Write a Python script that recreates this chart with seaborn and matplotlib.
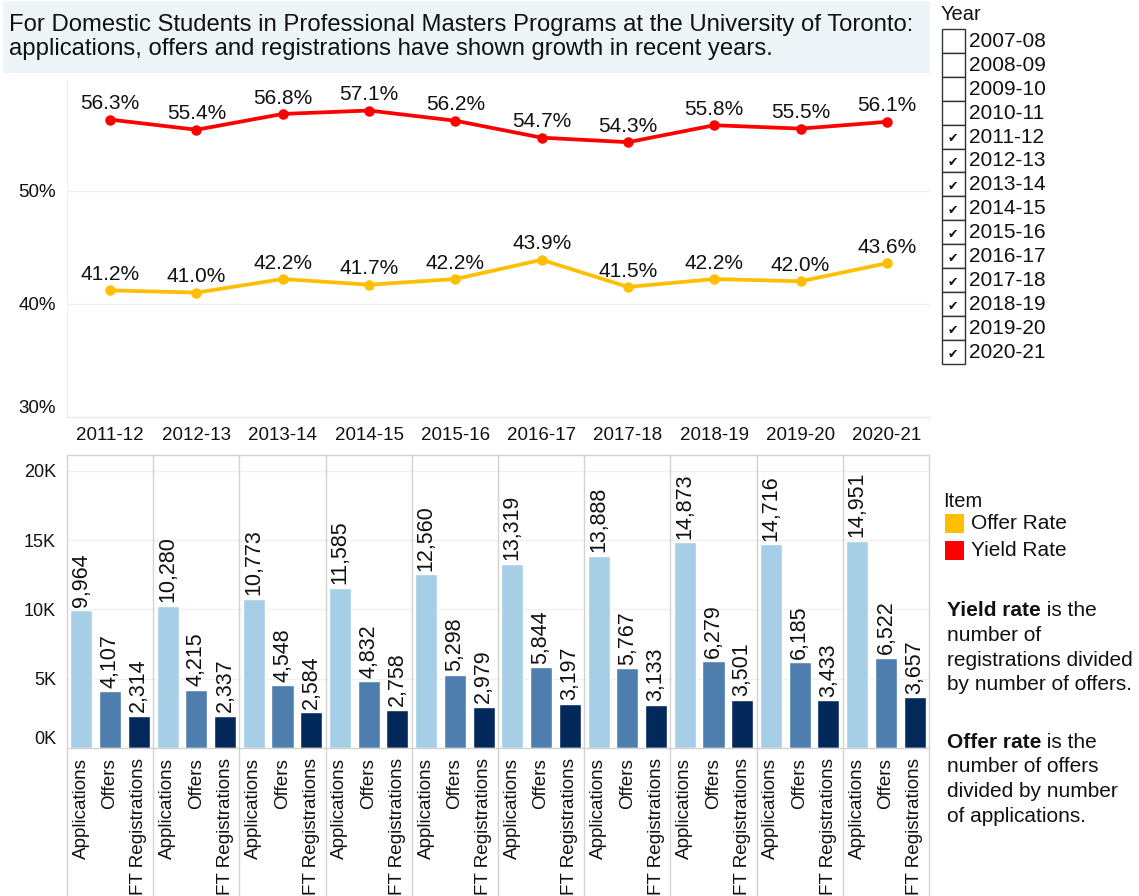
import numpy as np
import pandas as pd
import matplotlib
matplotlib.use("Agg")
import matplotlib.pyplot as plt
import seaborn as sns
from matplotlib.patches import Rectangle

# ---------------- data ----------------
years = ['2011-12', '2012-13', '2013-14', '2014-15', '2015-16',
         '2016-17', '2017-18', '2018-19', '2019-20', '2020-21']
yield_rate = [56.3, 55.4, 56.8, 57.1, 56.2, 54.7, 54.3, 55.8, 55.5, 56.1]
offer_rate = [41.2, 41.0, 42.2, 41.7, 42.2, 43.9, 41.5, 42.2, 42.0, 43.6]

items = ['Applications', 'Offers', 'FT Registrations']
applications = [9964, 10280, 10773, 11585, 12560, 13319, 13888, 14873, 14716, 14951]
offers = [4107, 4215, 4548, 4832, 5298, 5844, 5767, 6279, 6185, 6522]
ft_registrations = [2314, 2337, 2584, 2758, 2979, 3197, 3133, 3501, 3433, 3657]

rate_items = ['Offer Rate', 'Yield Rate']
all_years = ['2007-08', '2008-09', '2009-10', '2010-11', '2011-12', '2012-13',
             '2013-14', '2014-15', '2015-16', '2016-17', '2017-18', '2018-19',
             '2019-20', '2020-21']
checked_years = years

title_lines = ["For Domestic Students in Professional Masters Programs at the University of Toronto:",
               "applications, offers and registrations have shown growth in recent years."]

# ---------------- style ----------------
sns.set_style("white")
plt.rcParams['font.family'] = ['Liberation Sans', 'DejaVu Sans']

rate_colors = {'Offer Rate': '#FFBF00', 'Yield Rate': '#FF0000'}
bar_colors = {'Applications': '#A6CEE6', 'Offers': '#4E7EAE', 'FT Registrations': '#03295B'}
GRID = '#F0F0F0'
BORDER = '#D3D3D3'
TXT = '#111111'

W, H = 1139, 896
fig = plt.figure(figsize=(W / 100, H / 100), dpi=100)


def rect(x0, y0, x1, y1):
    return [x0 / W, 1 - y1 / H, (x1 - x0) / W, (y1 - y0) / H]


def fx(x):
    return x / W


def fy(y):
    return 1 - y / H


# ---------------- title box ----------------
fig.patches.append(Rectangle((fx(3), fy(73)), 927 / W, 72 / H, transform=fig.transFigure,
                             facecolor='#EDF5F9', edgecolor='none', zorder=0))
fig.text(fx(9), fy(30.5), title_lines[0], fontsize=17.2, va='baseline', ha='left', color=TXT)
fig.text(fx(9), fy(54.5), title_lines[1], fontsize=17.2, va='baseline', ha='left', color=TXT)

# ---------------- line chart ----------------
rates = pd.DataFrame({
    'Year': years * 2,
    'Rate': offer_rate + yield_rate,
    'Item': ['Offer Rate'] * len(years) + ['Yield Rate'] * len(years),
})

ax1 = fig.add_axes(rect(67, 80, 930, 417))
sns.pointplot(data=rates, x='Year', y='Rate', hue='Item', order=years, hue_order=rate_items,
              palette=rate_colors, markers='o', markersize=5.5, linewidth=2.7,
              errorbar=None, legend=False, ax=ax1)
for series in (offer_rate, yield_rate):
    for i, v in enumerate(series):
        ax1.annotate(f"{v:.1f}%", (i, v), xytext=(0, 7.5), textcoords='offset points',
                     ha='center', va='baseline', fontsize=15, color=TXT)
ax1.set_xlim(-0.5, len(years) - 0.5)
ax1.set_ylim(30, 59.8)
ax1.set_yticks([30, 40, 50])
ax1.set_yticklabels(['30%', '40%', '50%'])
ax1.yaxis.grid(True, color=GRID, lw=1)
ax1.set_xlabel('')
ax1.set_ylabel('')
for s in ['top', 'right']:
    ax1.spines[s].set_visible(False)
ax1.spines['left'].set_color(GRID)
ax1.spines['bottom'].set_color('#E6E6E6')
ax1.tick_params(axis='both', length=0, labelsize=13.5, colors=TXT)
ax1.tick_params(axis='y', pad=8)
ax1.tick_params(axis='x', pad=7)
ax1.set_xticks(np.arange(len(years) - 1) + 0.5, minor=True)
ax1.tick_params(axis='x', which='minor', length=6, color='#E6E6E6', width=1)
ax1.get_yticklabels()[0].set_va('bottom')

# ---------------- bar chart (faceted by year) ----------------
counts = pd.DataFrame({
    'Year': [y for y in years for _ in items],
    'Item': items * len(years),
    'Value': [v for trio in zip(applications, offers, ft_registrations) for v in trio],
})

panel_w = (929 - 67) / len(years)
for k, yr in enumerate(years):
    x0 = 67 + k * panel_w
    ax = fig.add_axes(rect(x0, 455, x0 + panel_w, 748))
    sub = counts[counts['Year'] == yr]
    sns.barplot(data=sub, x='Item', y='Value', hue='Item', order=items, hue_order=items,
                palette=bar_colors, width=0.77, legend=False, ax=ax, saturation=1)
    for c in ax.containers:
        ax.bar_label(c, labels=[f"{b.get_height():,.0f}" for b in c], rotation=90,
                     padding=2.5, fontsize=15.5, color=TXT)
    ax.set_xlim(-0.5, 2.5)
    ax.set_ylim(0, 21155)
    ax.set_yticks([0, 5000, 10000, 15000, 20000])
    ax.yaxis.grid(True, color=GRID, lw=1)
    ax.set_axisbelow(True)
    ax.set_xlabel('')
    ax.set_ylabel('')
    ax.tick_params(axis='x', length=0, labelsize=13.6, labelrotation=90, pad=7, colors=TXT)
    ax.set_xticks([0.5, 1.5], minor=True)
    ax.tick_params(axis='x', which='minor', length=7, color='#E6E6E6', width=1)
    for s in ['left', 'top', 'bottom', 'right']:
        ax.spines[s].set_color(BORDER)
        ax.spines[s].set_linewidth(1)
    if k < len(years) - 1:
        ax.spines['right'].set_visible(False)
    ax.axvline(-0.5, ymin=-0.51, ymax=0, color=BORDER, lw=1, clip_on=False)
    if k == len(years) - 1:
        ax.axvline(2.5, ymin=-0.51, ymax=0, color=BORDER, lw=1, clip_on=False)
    if k == 0:
        ax.set_yticklabels(['0K', '5K', '10K', '15K', '20K'])
        ax.tick_params(axis='y', length=0, labelsize=13, pad=8, colors=TXT)
        ax.get_yticklabels()[0].set_va('bottom')
    else:
        ax.tick_params(axis='y', length=0, labelleft=False)

# ---------------- Year filter (checkbox list) ----------------
fig.text(fx(941), fy(14), 'Year', fontsize=14.5, va='center', ha='left', color=TXT)
row_h = 23.9
for i, yr in enumerate(all_years):
    top = 29 + i * row_h
    fig.patches.append(Rectangle((fx(941.5), fy(top + row_h)), 23.5 / W, row_h / H,
                                 transform=fig.transFigure, facecolor='white',
                                 edgecolor='#333333', lw=1))
    if yr in checked_years:
        fig.text(fx(952.5), fy(top + row_h * 0.6), '\u2714', fontsize=9, ha='center',
                 va='center', color=TXT, family=['DejaVu Sans'])
    fig.text(fx(969), fy(top + row_h / 2 + 0.5), yr, fontsize=15, va='center', ha='left',
             color=TXT)

# ---------------- Item legend ----------------
fig.text(fx(943), fy(501), 'Item', fontsize=14.5, va='center', ha='left', color=TXT)
for j, it in enumerate(rate_items):
    cy = 523.5 + j * 27
    fig.patches.append(Rectangle((fx(945), fy(cy + 9.5)), 19 / W, 19 / H,
                                 transform=fig.transFigure, facecolor=rate_colors[it],
                                 edgecolor='none'))
    fig.text(fx(971), fy(cy), it, fontsize=15, va='center', ha='left', color=TXT)


# ---------------- notes ----------------
def note(y, bold, rest):
    t = fig.text(fx(947), fy(y), bold, fontsize=15, fontweight='bold', va='baseline',
                 ha='left', color=TXT)
    fig.add_artist(matplotlib.text.Annotation(
        rest, xy=(1, 0), xycoords=t, xytext=(0, 0), textcoords='offset points',
        fontsize=15, va='bottom', ha='left', color=TXT, annotation_clip=False))


def plain(y, s):
    fig.text(fx(947), fy(y), s, fontsize=15, va='baseline', ha='left', color=TXT)


note(616, 'Yield rate', ' is the')
plain(641, 'number of')
plain(666, 'registrations divided')
plain(690, 'by number of offers.')
note(748, 'Offer rate', ' is the')
plain(772, 'number of offers')
plain(797, 'divided by number')
plain(822, 'of applications.')

fig.savefig('out.png', dpi=100, facecolor='white')
